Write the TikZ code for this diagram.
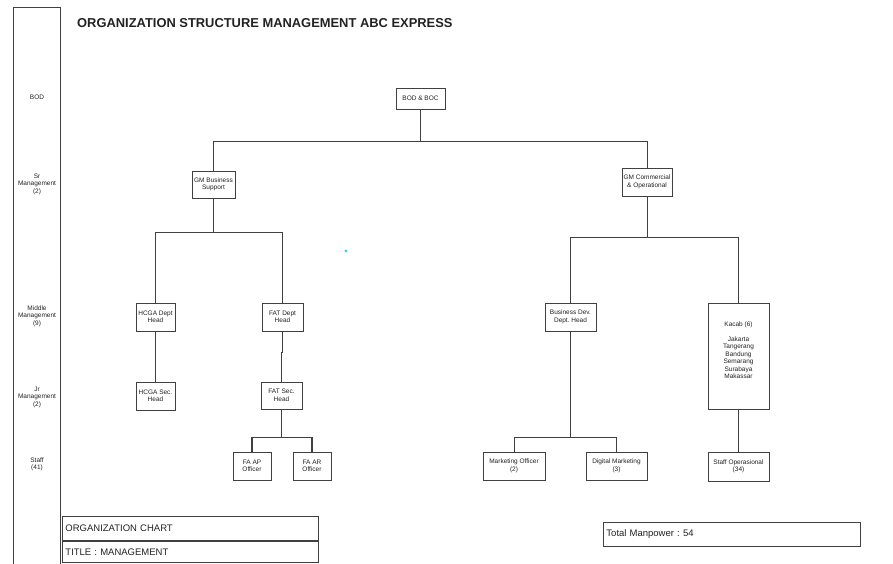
\documentclass[tikz,border=0pt]{standalone}
\usepackage{fontspec}
\setmainfont{Liberation Sans}
\usetikzlibrary{positioning,calc}
\frenchspacing
\definecolor{ink}{HTML}{222222}
\definecolor{rule}{HTML}{404040}
\definecolor{dotcyan}{HTML}{2FD8F0}
\tikzset{
  orgbox/.style={rectangle,draw=rule,line width=0.9pt,fill=white,align=center,inner sep=0pt,text=ink,font=\fontsize{6.5}{7.5}\selectfont},
  levellabel/.style={align=center,text=ink,font=\fontsize{6.5}{7.5}\selectfont},
  link/.style={draw=rule,line width=0.8pt},
  trunk/.style={draw=rule,line width=1.4pt},
  infobox/.style={rectangle,draw=rule,line width=0.9pt,align=left,anchor=north west,inner xsep=3pt,inner ysep=0pt,text=ink,font=\fontsize{9.5}{10}\selectfont}
}
\begin{document}
\begin{tikzpicture}[x=1pt,y=-1pt]
    \useasboundingbox (0,0) rectangle (893,564);
    % level column
    \draw[rule,line width=0.9pt] (13,564) -- (13,7) -- (60,7) -- (60,564);
    \node[levellabel] (lvbod) at (37,97) {BOD};
    \node[levellabel] (lvsr) at (37,184) {Sr\\Management\\(2)};
    \node[levellabel] (lvmid) at (37,316) {Middle\\Management\\(9)};
    \node[levellabel] (lvjr) at (37,397) {Jr\\Management\\(2)};
    \node[levellabel] (lvstaff) at (37,464.5) {Staff\\(41)};
    \node[anchor=west,inner sep=0pt,text=ink,font=\fontsize{12.9}{14}\selectfont\bfseries] (title) at (77,23) {ORGANIZATION STRUCTURE MANAGEMENT ABC EXPRESS};

    % boxes
    \node[orgbox,minimum width=49,minimum height=21] (bod) at (420.5,98.5) {BOD \& BOC};
    \node[orgbox,minimum width=43,minimum height=27] (gmbs) at (213.5,184.5) {GM Business\\Support};
    \node[orgbox,minimum width=50,minimum height=28] (gmco) at (647,182) {GM Commercial\\\& Operational};
    \node[orgbox,minimum width=39,minimum height=28] (hcgad) at (155.5,317) {HCGA Dept\\Head};
    \node[orgbox,minimum width=41,minimum height=28] (fatd) at (282.5,317) {FAT Dept\\Head};
    \node[orgbox,minimum width=39,minimum height=28] (hcgas) at (155.5,396) {HCGA Sec.\\Head};
    \node[orgbox,minimum width=41,minimum height=27] (fats) at (281.5,395.5) {FAT Sec.\\Head};
    \node[orgbox,minimum width=38,minimum height=28] (faap) at (252,466) {FA AP\\Officer};
    \node[orgbox,minimum width=38,minimum height=28] (faar) at (312,466) {FA AR\\Officer};
    \node[orgbox,minimum width=51,minimum height=28] (bizdev) at (570.5,317) {Business Dev.\\Dept. Head};
    \node[orgbox,minimum width=61,minimum height=106] (kacab) at (738.5,356) {};
    \node[levellabel,anchor=north] (kacabtxt) at ([yshift=-16pt]kacab.north) {Kacab (6)\\[7pt]Jakarta\\Tangerang\\Bandung\\Semarang\\Surabaya\\Makassar};
    \node[orgbox,minimum width=62,minimum height=28] (mkt) at (514,466) {Marketing Officer\\(2)};
    \node[orgbox,minimum width=61,minimum height=28] (digi) at (616.5,466) {Digital Marketing\\(3)};
    \node[orgbox,minimum width=61,minimum height=29] (staffop) at (738.5,466.5) {Staff Operasional\\(34)};

    % connectors
    \draw[trunk] (bod.south) -- ++(0,32) coordinate (topbus);
    \draw[link] (gmbs.north) |- (topbus) -| (gmco.north);
    \draw[link] (gmbs.south) -- ++(0,34) coordinate (bsbus);
    \draw[link] (hcgad.north) |- (bsbus) -| (fatd.north);
    \draw[link] (gmco.south) -- ++(0,41) coordinate (cobus);
    \draw[link] (bizdev.north) |- (cobus) -| (kacab.north);
    \draw[link] (hcgad.south) -- (hcgas.north);
    \draw[link] (fatd.south) -- ++(0,21) -| (fats.north);
    \draw[link] (fats.south) -- ++(0,28) coordinate (fabus);
    \draw[trunk] (faap.north) |- (fabus) -| (faar.north);
    \draw[trunk] (bizdev.south) -- ++(0,106) coordinate (mkbus);
    \draw[link] (mkt.north) |- (mkbus) -| (digi.north);
    \draw[link] (kacab.south) -- (staffop.north);

    \fill[dotcyan] (346,251) circle (1.6);

    % footer
    \node[infobox,text width=250pt,minimum height=24] (orgchart) at (62,516) {ORGANIZATION CHART};
    \node[infobox,text width=250pt,minimum height=21] (orgtitle) at (orgchart.south west) {TITLE : MANAGEMENT};
    \node[infobox,text width=251pt,minimum height=24] (manpower) at (603,522) {Total Manpower : 54};
\end{tikzpicture}
\end{document}
